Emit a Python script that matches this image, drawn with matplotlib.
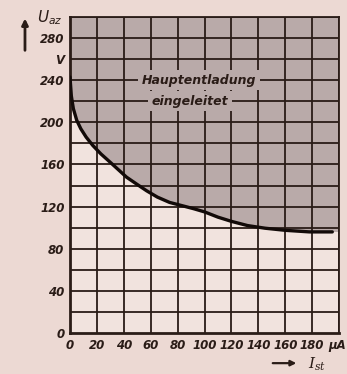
import matplotlib
matplotlib.use('Agg')
import matplotlib.pyplot as plt
import matplotlib.patches as mpatches
import numpy as np

# ignition curve: control current (uA) vs. anode voltage (V)
i_st = [0, 1, 2.5, 5, 8, 12, 17, 23, 30, 36, 42, 50, 57, 65, 74, 83, 92,
        100, 110, 120, 132, 145, 160, 178, 195]
u_az = [243, 225, 213, 202, 194, 186, 178, 170, 162, 155, 148, 141, 135, 129,
        124, 121, 118, 115, 110, 106, 102, 99.5, 97.5, 96, 96]

x_ticks = list(range(0, 200, 20))
x_labels = [str(v) for v in x_ticks]
y_ticks = list(range(0, 300, 20))
y_labels = ['0', '', '40', '', '80', '', '120', '', '160', '', '200', '', '240', 'V', '280']

paper = '#ecd9d3'
light = '#f1e3de'
shade = '#b9aaa9'
ink = '#2a1c17'

plt.rcParams['font.family'] = ['Liberation Sans Narrow', 'DejaVu Sans']

fig = plt.figure(figsize=(3.47, 3.74), dpi=100, facecolor=paper)
ax = fig.add_axes([0.2017, 0.1096, 0.7753, 0.8449])
ax.set_facecolor(light)

x = np.array(i_st, dtype=float)
y = np.array(u_az, dtype=float)
ax.fill_between(x, y, 300, color=shade, zorder=1, lw=0)
ax.fill_between([x[-1], 200], [y[-1], y[-1]], 300, color=shade, zorder=1, lw=0)

for v in x_ticks[1:] + [200]:
    ax.axvline(v, color=ink, lw=1.3, zorder=2)
for v in y_ticks[1:] + [300]:
    ax.axhline(v, color=ink, lw=1.3, zorder=2)

ax.plot(x, y, color='#120a08', lw=2.4, zorder=4, solid_capstyle='round',
        solid_joinstyle='round')

ax.set_xlim(0, 200)
ax.set_ylim(0, 300)
ax.set_xticks(x_ticks)
ax.set_xticklabels(x_labels)
ax.set_yticks(y_ticks)
ax.set_yticklabels(y_labels)
ax.tick_params(length=0, pad=4, colors=ink)
for lab in ax.get_xticklabels() + ax.get_yticklabels():
    lab.set_fontstyle('italic')
    lab.set_fontweight('bold')
    lab.set_fontsize(8.5)
for s in ax.spines.values():
    s.set_color(ink)
    s.set_linewidth(1.3)
ax.spines['left'].set_linewidth(2.0)
ax.spines['bottom'].set_linewidth(2.0)

# annotation boxed over the grid
box = dict(facecolor=shade, edgecolor='none', pad=2.5)
ax.text(96, 240, 'Hauptentladung', ha='center', va='center', fontsize=9,
        style='italic', fontweight='bold', color=ink, bbox=box, zorder=5)
ax.text(89, 220, 'eingeleitet', ha='center', va='center', fontsize=9,
        style='italic', fontweight='bold', color=ink, bbox=box, zorder=5)

# units and axis symbols
fig.text(0.998, 0.077, 'µA', ha='right', va='center', fontsize=8.5, style='italic',
         fontweight='bold', color=ink)
fig.text(0.142, 0.952, r'$U_{az}$', ha='center', va='center', fontsize=11, color=ink)
fig.text(0.915, 0.026, r'$I_{st}$', ha='center', va='center', fontsize=11, color=ink,
         math_fontfamily='dejavuserif')
fig.patches.append(mpatches.FancyArrowPatch(
    (0.072, 0.858), (0.072, 0.958), transform=fig.transFigure,
    arrowstyle='-|>', mutation_scale=9, lw=2, color=ink))
fig.patches.append(mpatches.FancyArrowPatch(
    (0.778, 0.029), (0.862, 0.029), transform=fig.transFigure,
    arrowstyle='-|>', mutation_scale=8, lw=1.6, color=ink))

fig.savefig('out.png', dpi=100, facecolor=paper)
